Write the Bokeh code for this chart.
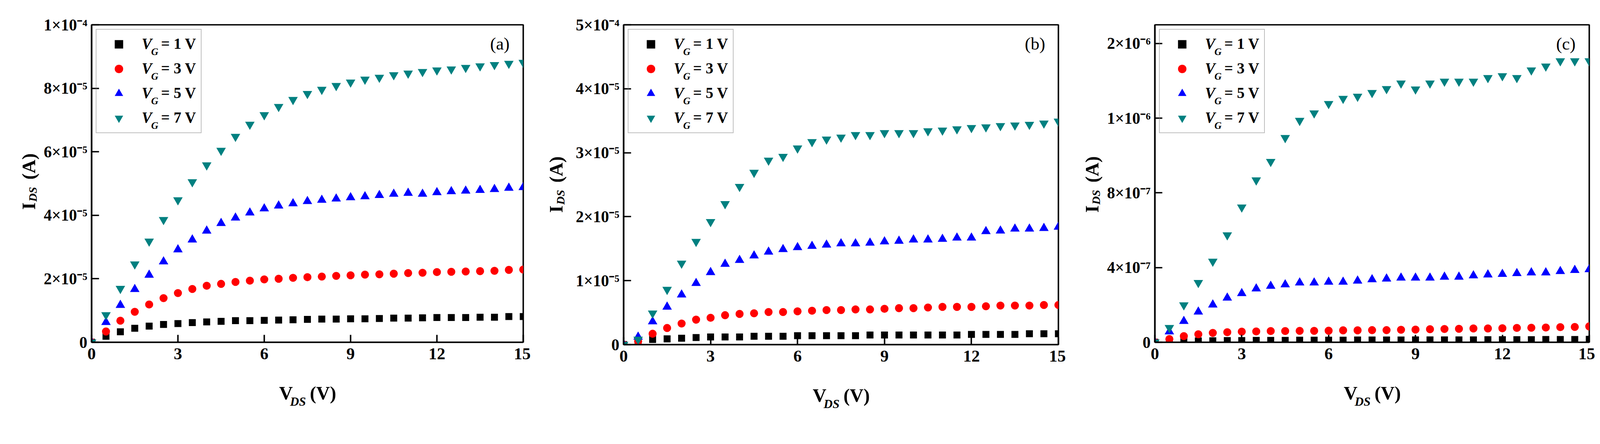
import math
from bokeh.plotting import figure
from bokeh.models import (Range1d, FixedTicker, CustomJSTickFormatter, Label,
                          Legend, LegendItem)
from bokeh.core.properties import value
from bokeh.layouts import row
from bokeh.embed import file_html
from bokeh.resources import INLINE

# ---------------- data ----------------
VDS = [0.0, 0.5, 1.0, 1.5, 2.0, 2.5, 3.0, 3.5, 4.0, 4.5, 5.0, 5.5, 6.0, 6.5, 7.0, 7.5,
       8.0, 8.5, 9.0, 9.5, 10.0, 10.5, 11.0, 11.5, 12.0, 12.5, 13.0, 13.5, 14.0, 14.5, 15.0]

# panel (a), units of 1e-5 A
A_SCALE = 1e-5
A_VG1 = [0, 0.19, 0.33, 0.44, 0.51, 0.56, 0.59, 0.62, 0.64, 0.66, 0.68, 0.68, 0.69, 0.70, 0.71, 0.72,
         0.73, 0.73, 0.74, 0.74, 0.75, 0.76, 0.76, 0.77, 0.78, 0.78, 0.78, 0.79, 0.79, 0.81, 0.81]
A_VG3 = [0, 0.34, 0.68, 0.96, 1.19, 1.39, 1.55, 1.68, 1.78, 1.84, 1.90, 1.94, 1.98, 2.00, 2.03, 2.05,
         2.07, 2.09, 2.11, 2.13, 2.14, 2.16, 2.18, 2.19, 2.21, 2.22, 2.23, 2.24, 2.25, 2.28, 2.29]
A_VG5 = [0, 0.63, 1.17, 1.67, 2.12, 2.54, 2.92, 3.23, 3.51, 3.75, 3.92, 4.08, 4.21, 4.30, 4.37, 4.44,
         4.48, 4.52, 4.56, 4.59, 4.63, 4.67, 4.70, 4.67, 4.72, 4.75, 4.77, 4.79, 4.82, 4.86, 4.88]
A_VG7 = [0, 0.86, 1.69, 2.46, 3.18, 3.86, 4.48, 5.05, 5.58, 6.04, 6.48, 6.86, 7.16, 7.42, 7.64, 7.83,
         7.96, 8.08, 8.19, 8.28, 8.34, 8.42, 8.47, 8.52, 8.57, 8.60, 8.65, 8.70, 8.74, 8.78, 8.81]

# panel (b), units of 1e-5 A
B_SCALE = 1e-5
B_VG1 = [0, 0.04, 0.08, 0.09, 0.10, 0.11, 0.12, 0.12, 0.12, 0.13, 0.13, 0.13, 0.14, 0.14, 0.14, 0.14,
         0.14, 0.15, 0.15, 0.15, 0.15, 0.15, 0.15, 0.15, 0.16, 0.16, 0.16, 0.16, 0.17, 0.17, 0.17]
B_VG3 = [0, 0.05, 0.17, 0.26, 0.33, 0.39, 0.42, 0.46, 0.48, 0.49, 0.51, 0.51, 0.52, 0.53, 0.54, 0.54,
         0.55, 0.55, 0.56, 0.57, 0.57, 0.58, 0.59, 0.59, 0.59, 0.60, 0.61, 0.61, 0.61, 0.62, 0.62]
B_VG5 = [0, 0.12, 0.36, 0.59, 0.78, 0.96, 1.13, 1.26, 1.32, 1.39, 1.45, 1.49, 1.52, 1.54, 1.56, 1.58,
         1.58, 1.59, 1.61, 1.62, 1.64, 1.64, 1.65, 1.67, 1.67, 1.77, 1.78, 1.81, 1.81, 1.82, 1.84]
B_VG7 = [0, 0.08, 0.49, 0.86, 1.27, 1.61, 1.92, 2.20, 2.47, 2.69, 2.88, 2.94, 3.07, 3.17, 3.21, 3.24,
         3.28, 3.28, 3.31, 3.31, 3.31, 3.34, 3.35, 3.37, 3.39, 3.40, 3.42, 3.43, 3.44, 3.46, 3.49]

# panel (c), units of 1e-7 A
C_SCALE = 1e-7
C_VG1 = [0, 0.03, 0.05, 0.07, 0.08, 0.09, 0.09, 0.10, 0.10, 0.10, 0.11, 0.11, 0.11, 0.11, 0.12, 0.12,
         0.12, 0.12, 0.13, 0.13, 0.13, 0.13, 0.13, 0.14, 0.14, 0.14, 0.14, 0.15, 0.15, 0.15, 0.16]
C_VG3 = [0, 0.17, 0.33, 0.43, 0.50, 0.54, 0.57, 0.58, 0.60, 0.60, 0.61, 0.61, 0.62, 0.64, 0.64, 0.65,
         0.65, 0.67, 0.68, 0.70, 0.71, 0.72, 0.74, 0.74, 0.75, 0.77, 0.78, 0.79, 0.81, 0.82, 0.85]
C_VG5 = [0, 0.57, 1.13, 1.63, 2.01, 2.38, 2.62, 2.87, 3.01, 3.09, 3.19, 3.19, 3.23, 3.23, 3.29, 3.36,
         3.40, 3.45, 3.45, 3.45, 3.50, 3.50, 3.57, 3.62, 3.65, 3.69, 3.73, 3.73, 3.80, 3.86, 3.90]
C_VG7 = [0, 0.78, 1.99, 3.19, 4.33, 5.74, 7.23, 8.68, 9.67, 10.95, 11.87, 12.27, 12.77, 13.05, 13.16, 13.36,
         13.57, 13.87, 13.55, 13.87, 13.97, 13.97, 13.97, 14.16, 14.26, 14.16, 14.57, 14.78, 15.06, 15.06, 15.06]

X_TICKS = [0, 3, 6, 9, 12, 15]
X_TICK_LABELS = ["0", "3", "6", "9", "12", "15"]

A_YMAX = 1e-4
A_YTICKS = [0, 2e-5, 4e-5, 6e-5, 8e-5, 1e-4]
A_YLABELS = ["0", "2×10⁻⁵", "4×10⁻⁵", "6×10⁻⁵", "8×10⁻⁵", "1×10⁻⁴"]

B_YMAX = 5e-5
B_YTICKS = [0, 1e-5, 2e-5, 3e-5, 4e-5, 5e-5]
B_YLABELS = ["0", "1×10⁻⁵", "2×10⁻⁵", "3×10⁻⁵", "4×10⁻⁵", "5×10⁻⁴"]

C_YMAX = 1.7e-6
C_YTICKS = [0, 4e-7, 8e-7, 1.2e-6, 1.6e-6]
C_YLABELS = ["0", "4×10⁻⁷", "8×10⁻⁷", "1×10⁻⁶", "2×10⁻⁶"]

SERIES_NAMES = ["= 1 V", "= 3 V", "= 5 V", "= 7 V"]
MARKERS = ["square", "circle", "triangle", "inverted_triangle"]
COLORS = ["#000000", "#ff0000", "#0000ff", "#008080"]
SIZES = [19, 22, 26, 26]
TAGS = ["(a)", "(b)", "(c)"]

X_LABEL_MAIN = "V\u2002\u2009\u2009(V)"
X_LABEL_SUB = "DS"
Y_LABEL_MAIN = "I\u2003\u2009(A)"
Y_LABEL_SUB = "DS"

FONT = "Liberation Serif"

# ---------------- layout (reference pixels -> css pixels) ----------------
S = 0.9355          # the page is photographed slightly enlarged; work in css px
MARGIN = 8


def sp(v):
    return v * S


# frame edges in the reference picture: left, right, top, bottom
REF_FRAMES = [(259, 1440, 76, 945), (1715, 2905, 72, 947), (3168, 4357, 60, 929)]
YLAB = [(172, -72), (184, -77), (172, -80)]        # y label baseline / start offsets (ref px)
BOTTOM = [176, 175, 186]
PANEL_DATA = [
    ([A_VG1, A_VG3, A_VG5, A_VG7], A_SCALE, A_YMAX, A_YTICKS, A_YLABELS),
    ([B_VG1, B_VG3, B_VG5, B_VG7], B_SCALE, B_YMAX, B_YTICKS, B_YLABELS),
    ([C_VG1, C_VG3, C_VG5, C_VG7], C_SCALE, C_YMAX, C_YTICKS, C_YLABELS),
]

GEOM = []
x_start = MARGIN
for i, (l, r, t, b) in enumerate(REF_FRAMES):
    fl, fr, ft, fb = sp(l), sp(r), sp(t), sp(b)
    bl = int(round(fl - x_start))
    fw = int(round(fr - fl))
    br = 19 if i < 2 else 15
    bt = int(round(ft - MARGIN))
    fh = int(round(fb - ft))
    GEOM.append(dict(bl=bl, fw=fw, br=br, bt=bt, fh=fh, bb=BOTTOM[i]))
    x_start += bl + fw + br

# legend geometry (css px)
LG_MARGIN = int(round(sp(12)))
LG_PAD = int(round(sp(11)))
LG_GW = int(round(sp(100)))
LG_GH = int(round(sp(58)))
LG_SPACING = int(round(sp(10)))
LG_STANDOFF = 5
LG_LABEL_W = int(round(sp(285))) - 2 * LG_PAD - LG_GW - LG_STANDOFF


def lookup_formatter(vals, labs):
    return CustomJSTickFormatter(args=dict(vals=vals, labs=labs), code="""
let best = 0, bd = Infinity;
for (let i = 0; i < vals.length; i++) {
  const d = Math.abs(vals[i] - tick);
  if (d < bd) { bd = d; best = i; }
}
return labs[best];
""")


def txt(p, x, y, dx, dy, text, size, style="bold", align="left", baseline="alphabetic",
        angle=0.0, place="center"):
    lab = Label(x=x, y=y, x_units="data", y_units="data", x_offset=dx, y_offset=dy,
                text=text, text_font=FONT, text_font_size=f"{size:.1f}px",
                text_font_style=style, text_color="black", text_align=align,
                text_baseline=baseline, angle=angle, angle_units="rad")
    p.add_layout(lab, place)


def make_panel(idx):
    series, scale, ymax, yticks, ylabels = PANEL_DATA[idx]
    g = GEOM[idx]
    p = figure(frame_width=g["fw"], frame_height=g["fh"], output_backend="svg", title=None,
               toolbar_location=None, x_range=Range1d(0, 15), y_range=Range1d(0, ymax),
               min_border_left=g["bl"], min_border_right=g["br"], min_border_top=g["bt"],
               min_border_bottom=g["bb"])
    p.background_fill_color = "white"
    p.border_fill_color = "white"
    p.outline_line_color = "black"
    p.outline_line_width = sp(4)
    p.outline_line_alpha = 1.0
    p.xgrid.visible = False
    p.ygrid.visible = False

    for ax in (p.xaxis[0], p.yaxis[0]):
        ax.axis_line_width = sp(4)
        ax.axis_line_color = "black"
        ax.major_tick_line_width = sp(4)
        ax.major_tick_line_color = "black"
        ax.major_tick_in = int(round(sp(20)))
        ax.major_tick_out = 0
        ax.minor_tick_line_color = None
        ax.major_label_text_font = FONT
        ax.major_label_text_font_style = "bold"
        ax.major_label_text_color = "black"
    p.xaxis[0].ticker = FixedTicker(ticks=X_TICKS)
    p.xaxis[0].formatter = lookup_formatter(X_TICKS, X_TICK_LABELS)
    p.xaxis[0].major_label_text_font_size = f"{sp(46):.1f}px"
    p.xaxis[0].major_label_standoff = int(round(sp(16)))
    p.yaxis[0].ticker = FixedTicker(ticks=yticks)
    p.yaxis[0].formatter = lookup_formatter(yticks, ylabels)
    p.yaxis[0].major_label_text_font_size = f"{sp(44):.1f}px"
    p.yaxis[0].major_label_standoff = int(round(sp(12)))

    items = []
    for vals, mk, col, sz in zip(series, MARKERS, COLORS, SIZES):
        ys = [v * scale for v in vals]
        r = p.scatter(x=VDS, y=ys, marker=mk, size=sp(sz), fill_color=col, line_color=None)
        items.append(LegendItem(label=value("\u00a0"), renderers=[r]))

    legend = Legend(items=items, location="top_left", margin=LG_MARGIN, padding=LG_PAD,
                    spacing=LG_SPACING, glyph_width=LG_GW, glyph_height=LG_GH,
                    label_height=LG_GH, label_standoff=LG_STANDOFF, label_width=LG_LABEL_W,
                    label_text_font=FONT, label_text_font_size="10px",
                    border_line_color="#808080", border_line_width=sp(3),
                    background_fill_color="white", background_fill_alpha=0.0)
    p.add_layout(legend)

    # legend texts  V_G = n V
    for i, name in enumerate(SERIES_NAMES):
        cy = -(LG_MARGIN + LG_PAD + LG_GH / 2 + i * (LG_GH + LG_SPACING))
        txt(p, 0, ymax, sp(137), cy, "V", sp(42), style="bold italic", baseline="middle")
        txt(p, 0, ymax, sp(163), cy - sp(22), "G", sp(27), style="bold italic", baseline="middle")
        txt(p, 0, ymax, sp(190), cy, name, sp(42), style="bold", baseline="middle")

    # panel tag
    txt(p, 15, ymax, sp(-64), sp(-52), TAGS[idx], sp(48), style="normal",
        align="center", baseline="middle")

    # x axis label  V_DS (V)  (side panels are not clipped to the frame)
    txt(p, 7.5, 0, sp(-77.5), sp(-140), X_LABEL_MAIN, sp(52), style="bold", place="below")
    txt(p, 7.5, 0, sp(-47.5), sp(-163), X_LABEL_SUB, sp(34), style="bold italic", place="below")

    # y axis label  I_DS (A)
    dx, dy = YLAB[idx]
    rot = math.pi / 2
    txt(p, 0, ymax / 2, sp(-dx), sp(dy), Y_LABEL_MAIN, sp(52), style="bold", angle=rot, place="left")
    txt(p, 0, ymax / 2, sp(-dx + 11), sp(dy + 22), Y_LABEL_SUB, sp(32), style="bold italic",
        angle=rot, place="above")
    return p


figs = [make_panel(i) for i in range(3)]
layout = row(*figs)
open("out.html", "w").write(file_html(layout, INLINE))
